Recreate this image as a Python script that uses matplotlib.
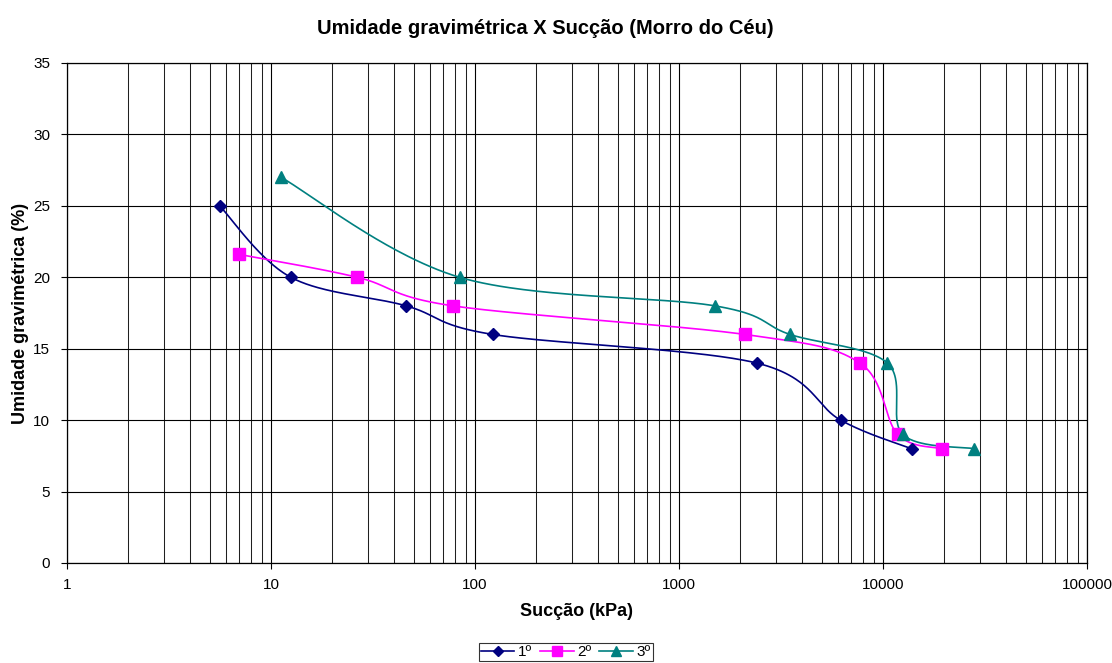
import numpy as np
import matplotlib
matplotlib.use("Agg")
import matplotlib.pyplot as plt
from matplotlib.ticker import LogLocator, NullFormatter, FuncFormatter

plt.rcParams['font.family'] = ['Liberation Sans', 'DejaVu Sans']

title = "Umidade gravimétrica X Sucção (Morro do Céu)"
xlabel = "Sucção (kPa)"
ylabel = "Umidade gravimétrica (%)"

s1_name = "1º"
s1_x = [5.6, 12.5, 46, 122, 2400, 6200, 13800]
s1_y = [25, 20, 18, 16, 14, 10, 8]

s2_name = "2º"
s2_x = [7.0, 26.5, 78, 2100, 7700, 11800, 19500]
s2_y = [21.6, 20, 18, 16, 14, 9, 8]

s3_name = "3º"
s3_x = [11.2, 84, 1500, 3500, 10500, 12500, 28000]
s3_y = [27, 20, 18, 16, 14, 9, 8]

W, H, DPI = 1112, 663, 100
fig = plt.figure(figsize=(W / DPI, H / DPI), dpi=DPI)
ax = fig.add_axes([67 / W, 1 - 563 / H, (1087 - 67) / W, (563 - 63) / H])
ax.set_xscale('log')
ax.set_xlim(1, 100000)
ax.set_ylim(0, 35)
ax.set_yticks(np.arange(0, 36, 5))
ax.xaxis.set_major_locator(LogLocator(base=10, numticks=10))
ax.xaxis.set_minor_locator(LogLocator(base=10, subs=np.arange(2, 10), numticks=20))
ax.xaxis.set_minor_formatter(NullFormatter())
ax.xaxis.set_major_formatter(FuncFormatter(lambda v, p: f"{int(round(v))}"))
ax.grid(True, which='major', color='black', linewidth=0.8)
ax.grid(True, which='minor', axis='x', color='#202020', linewidth=0.75)
ax.set_axisbelow(True)
for sp in ax.spines.values():
    sp.set_color('black')
    sp.set_linewidth(0.9)
ax.tick_params(axis='both', which='major', labelsize=11, length=4, direction='out', color='black')
ax.tick_params(axis='y', pad=8)
ax.tick_params(axis='x', pad=7)
ax.tick_params(axis='x', which='minor', length=0)
ax.set_xlabel(xlabel, fontsize=13, fontweight='bold')
ax.xaxis.set_label_coords(0.5, (563 - 612) / 500, transform=ax.transAxes)
ax.xaxis.label.set_va('center')
ax.set_ylabel(ylabel, fontsize=13, fontweight='bold')
ax.yaxis.set_label_coords((21 - 67) / 1020, 0.5, transform=ax.transAxes)
ax.yaxis.label.set_va('center')
fig.text(545 / W, 1 - 28 / H, title, ha='center', va='center', fontsize=14.5, fontweight='bold')

fig.canvas.draw()


def smooth(xs, ys):
    pts = ax.transData.transform(np.column_stack([xs, ys]))
    n = len(pts)
    out = []
    for i in range(n - 1):
        p0 = pts[i - 1] if i > 0 else pts[i]
        p1 = pts[i]
        p2 = pts[i + 1]
        p3 = pts[i + 2] if i + 2 < n else pts[i + 1]
        c1 = p1 + (p2 - p0) / 6.0
        c2 = p2 - (p3 - p1) / 6.0
        t = np.linspace(0, 1, 60)[:, None]
        seg = ((1 - t) ** 3) * p1 + 3 * ((1 - t) ** 2) * t * c1 + 3 * (1 - t) * t ** 2 * c2 + t ** 3 * p2
        out.append(seg if i == 0 else seg[1:])
    out = np.vstack(out)
    return ax.transData.inverted().transform(out)


series = [
    (s1_name, s1_x, s1_y, '#000080', 'D', 6.5),
    (s2_name, s2_x, s2_y, '#FF00FF', 's', 8),
    (s3_name, s3_x, s3_y, '#008080', '^', 8.5),
]
handles = []
for name, xs, ys, col, mk, ms in series:
    curve = smooth(xs, ys)
    ax.plot(curve[:, 0], curve[:, 1], color=col, linewidth=1.2, zorder=3)
    ax.plot(xs, ys, linestyle='none', marker=mk, markersize=ms, color=col,
            markeredgecolor=col, zorder=4)
    h, = ax.plot([], [], color=col, linewidth=1.2, marker=mk, markersize=ms - 1,
                 markeredgecolor=col, label=name)
    handles.append(h)

leg = fig.legend(handles=handles, loc='center', bbox_to_anchor=(566 / W, 1 - 652 / H),
                 ncol=3, fontsize=11, frameon=True, fancybox=False, edgecolor='black',
                 handlelength=2.2, handletextpad=0.25, columnspacing=0.5,
                 borderpad=0.15, borderaxespad=0)
leg.get_frame().set_linewidth(0.8)

fig.savefig("out.png", dpi=DPI)
